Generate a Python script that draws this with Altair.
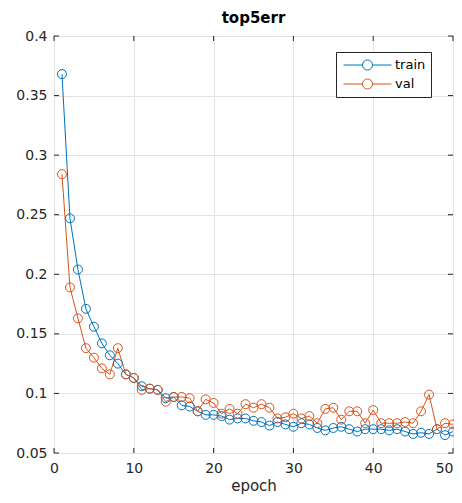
import altair as alt
import pandas as pd

epochs = list(range(1, 51))
train = [0.368, 0.247, 0.204, 0.171, 0.156, 0.142, 0.132, 0.125, 0.116, 0.113,
         0.106, 0.104, 0.103, 0.096, 0.097, 0.090, 0.089, 0.085, 0.082, 0.082,
         0.081, 0.078, 0.079, 0.079, 0.077, 0.076, 0.073, 0.076, 0.074, 0.072,
         0.075, 0.074, 0.071, 0.069, 0.071, 0.072, 0.070, 0.068, 0.070, 0.070,
         0.070, 0.069, 0.070, 0.068, 0.066, 0.067, 0.066, 0.070, 0.065, 0.068]
val = [0.284, 0.189, 0.163, 0.138, 0.130, 0.121, 0.116, 0.138, 0.116, 0.113,
       0.103, 0.104, 0.103, 0.093, 0.097, 0.097, 0.096, 0.085, 0.095, 0.092,
       0.083, 0.087, 0.083, 0.091, 0.088, 0.091, 0.088, 0.079, 0.080, 0.083,
       0.079, 0.081, 0.075, 0.087, 0.088, 0.078, 0.085, 0.085, 0.075, 0.086,
       0.075, 0.075, 0.075, 0.076, 0.075, 0.085, 0.099, 0.070, 0.075, 0.074]
series_names = ["train", "val"]
series_colors = ["#0072BD", "#D95319"]
x_ticks = [0, 10, 20, 30, 40, 50]
y_ticks = [0.05, 0.1, 0.15, 0.2, 0.25, 0.3, 0.35, 0.4]

df = pd.DataFrame({
    "epoch": epochs * 2,
    "value": train + val,
    "series": ["train"] * len(train) + ["val"] * len(val),
})
xt = pd.DataFrame({"t": x_ticks})
yt = pd.DataFrame({"t": y_ticks})

W, H = 399, 417
FONT = "DejaVu Sans"
AX = "#262626"

xscale = alt.Scale(domain=[0, 50], nice=False, zero=False)
yscale = alt.Scale(domain=[0.05, 0.4], nice=False, zero=False)

leg_path = ("M-1,0L-0.21,0M0.21,0L1,0M0.21,0A0.21,0.21,0,1,1,-0.21,0"
            "A0.21,0.21,0,1,1,0.21,0")

color = alt.Color(
    "series:N",
    scale=alt.Scale(domain=series_names, range=series_colors),
    legend=alt.Legend(
        title=None, orient="none", legendX=282, legendY=16,
        symbolType=leg_path, symbolSize=2304, symbolStrokeWidth=1,
        symbolFillColor="transparent", labelFont=FONT, labelFontSize=13,
        labelColor="#000000", strokeColor="#262626", fillColor="#ffffff",
        padding=5, rowPadding=3, labelOffset=3, symbolOffset=2,
        clipHeight=16,
    ),
)

x_enc = alt.X("epoch:Q", scale=xscale,
              axis=alt.Axis(values=x_ticks, title="epoch", format="d",
                            grid=True, tickSize=0, domain=False,
                            labelPadding=8, titlePadding=3,
                            labelAlign=alt.condition("datum.value == 50",
                                                     alt.value("right"),
                                                     alt.value("center"))))
y_enc = alt.Y("value:Q", scale=yscale,
              axis=alt.Axis(values=y_ticks, title=None, format=".2~f",
                            grid=True, tickSize=0, domain=False,
                            labelPadding=7))

lines = alt.Chart(df).mark_line(strokeWidth=1).encode(
    x=x_enc, y=y_enc, color=color, detail="series:N")
points = alt.Chart(df).mark_point(filled=False, size=80, strokeWidth=1, opacity=1).encode(
    x="epoch:Q", y="value:Q", color=alt.Color("series:N", legend=None,
                                               scale=alt.Scale(domain=series_names, range=series_colors)))

tick_color = "#262626"
xb = alt.Chart(xt).mark_rule(color=tick_color).encode(
    x=alt.X("t:Q", scale=xscale), y=alt.value(H), y2=alt.value(H - 5))
xtop = alt.Chart(xt).mark_rule(color=tick_color).encode(
    x=alt.X("t:Q", scale=xscale), y=alt.value(0), y2=alt.value(5))
yl = alt.Chart(yt).mark_rule(color=tick_color).encode(
    y=alt.Y("t:Q", scale=yscale), x=alt.value(0), x2=alt.value(5))
yr = alt.Chart(yt).mark_rule(color=tick_color).encode(
    y=alt.Y("t:Q", scale=yscale), x=alt.value(W), x2=alt.value(W - 5))

chart = alt.layer(lines, points, xb, xtop, yl, yr).properties(
    width=W, height=H,
    title=alt.TitleParams("top5err", font=FONT, fontSize=15, fontWeight="bold",
                          color="#000000", anchor="middle", offset=3),
    autosize=alt.AutoSizeParams(type="none"),
    padding={"left": 46, "top": 28, "right": 1, "bottom": 41},
).configure_view(
    stroke="#4d4d4d", strokeWidth=1
).configure_axis(
    labelFont=FONT, labelFontSize=14, labelColor=AX,
    titleFont=FONT, titleFontSize=15, titleColor=AX, titleFontWeight="normal",
    gridColor="#e3e3e3", gridWidth=1,
)

chart.save("out.html", embed_options={"renderer": "svg", "actions": False})
